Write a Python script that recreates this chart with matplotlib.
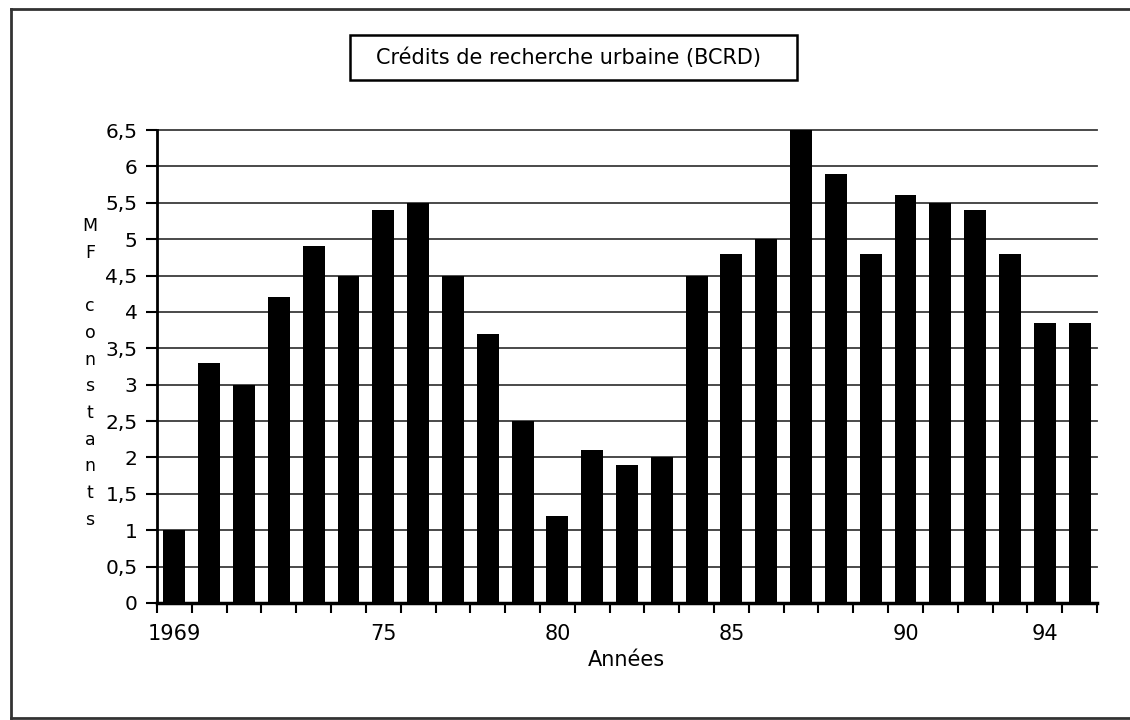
import matplotlib
matplotlib.use("Agg")
import matplotlib.pyplot as plt
import numpy as np
from matplotlib.lines import Line2D
from matplotlib.patches import Rectangle

# Crédits de recherche urbaine (BCRD), MF constants
annees = list(range(1969, 1996))
credits = [1.0, 3.3, 3.0, 4.2, 4.9, 4.5, 5.4, 5.5, 4.5, 3.7, 2.5, 1.2, 2.1, 1.9, 2.0,
           4.5, 4.8, 5.0, 6.5, 5.9, 4.8, 5.6, 5.5, 5.4, 4.8, 3.85, 3.85]
etiquettes = {1969: "1969", 1975: "75", 1980: "80", 1985: "85", 1990: "90", 1994: "94"}
y_ticks = np.arange(0, 6.51, 0.5)

plt.rcParams["font.family"] = ["DejaVu Sans"]
fig = plt.figure(figsize=(11.3, 7.2), dpi=100)
ax = fig.add_axes([157 / 1130, 1 - 603 / 720, 940 / 1130, 473 / 720])

x = np.arange(len(annees))
ax.bar(x, credits, width=0.63, color="black", zorder=3)

ax.set_xlim(-0.5, len(annees) - 0.5)
ax.set_ylim(0, 6.5)

# grille horizontale
ax.set_yticks(y_ticks)
ax.set_yticklabels([("%g" % v).replace(".", ",") for v in y_ticks], fontsize=14.5)
for v in y_ticks:
    ax.axhline(v, color="#3a3a3a", lw=1.3, zorder=1, clip_on=False)

# graduations de l'axe x entre les barres, étiquettes sous certaines années
ax.set_xticks(np.arange(-0.5, len(annees), 1.0), minor=True)
pos = [annees.index(a) for a in etiquettes]
ax.set_xticks(pos)
ax.set_xticklabels(list(etiquettes.values()), fontsize=15)
ax.tick_params(axis="x", which="major", length=0, pad=15)
ax.tick_params(axis="x", which="minor", length=7, width=1.5, direction="out")
ax.tick_params(axis="y", length=8, width=1.5, pad=6, direction="out")

for s in ["top", "right"]:
    ax.spines[s].set_visible(False)
ax.spines["left"].set_linewidth(2)
ax.spines["bottom"].set_linewidth(2.5)

# titre encadré
fig.add_artist(Rectangle((350 / 1130, 1 - 80 / 720), 447 / 1130, 45 / 720,
                         transform=fig.transFigure, fc="white", ec="black", lw=1.8))
fig.text(568 / 1130, 1 - 58 / 720, "Crédits de recherche urbaine (BCRD)", fontsize=15,
         ha="center", va="center")

# étiquette verticale, lettres empilées
fig.text(90 / 1130, 1 - 373 / 720, "\n".join("MF constants"), fontsize=12.5,
         ha="center", va="center", linespacing=1.62)
fig.text(626 / 1130, 1 - 660 / 720, "Années", fontsize=15, ha="center", va="center")

# cadre extérieur
fr = dict(color="#333333", lw=2, transform=fig.transFigure)
fig.add_artist(Line2D([11 / 1130, 11 / 1130], [1 - 718 / 720, 1 - 9 / 720], **fr))
fig.add_artist(Line2D([11 / 1130, 1.0], [1 - 9 / 720, 1 - 9 / 720], **fr))
fig.add_artist(Line2D([11 / 1130, 1.0], [1 - 718 / 720, 1 - 718 / 720], **fr))

fig.savefig("out.png", dpi=100)
